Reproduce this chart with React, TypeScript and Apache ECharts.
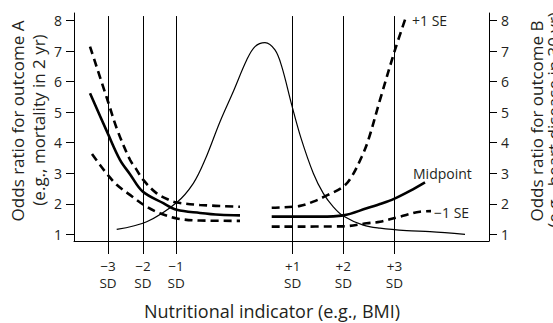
import React, { useEffect, useRef } from "react";
import * as echarts from "echarts";

// x in arbitrary indicator units (0–100 across the plot), y = odds ratio
const sdPositions = [8.2, 16.6, 24.6, 52.7, 64.9, 77.2];
const sdLabels = ["\u22123\nSD", "\u22122\nSD", "\u22121\nSD", "+1\nSD", "+2\nSD", "+3\nSD"];
const yTicks = [1, 2, 3, 4, 5, 6, 7, 8];

const distribution: [number, number][] = [
  [10.29, 1.16], [17.52, 1.41], [24.75, 2.04], [28.75, 2.67], [31.57, 3.44],
  [35.18, 4.69], [38.39, 5.68], [41.61, 6.71], [43.61, 7.15], [46.02, 7.28],
  [48.43, 7.04], [50.05, 6.5], [52.46, 5.24], [54.7, 4.15], [57.66, 3.0],
  [60.07, 2.34], [62.48, 1.9], [64.89, 1.6], [69.71, 1.3], [73.73, 1.2],
  [80.17, 1.12], [85.78, 1.09], [94.22, 1.0],
];

const midLeft: [number, number][] = [
  [3.86, 5.62], [8.19, 4.29], [11.08, 3.44], [13.49, 2.97], [16.55, 2.4],
  [21.52, 2.02], [24.75, 1.8], [30.36, 1.7], [35.18, 1.64], [40.0, 1.62],
];
const upperLeft: [number, number][] = [
  [3.86, 7.15], [8.19, 5.35], [10.43, 4.42], [13.49, 3.44], [14.87, 3.16],
  [16.7, 2.78], [19.93, 2.34], [23.13, 2.11], [24.75, 2.04], [30.36, 1.96],
  [40.0, 1.9],
];
const lowerLeft: [number, number][] = [
  [4.34, 3.63], [6.27, 3.27], [8.19, 2.94], [10.29, 2.62], [13.49, 2.29],
  [17.52, 1.9], [20.72, 1.69], [24.75, 1.52], [30.36, 1.45], [40.0, 1.44],
];

const midRight: [number, number][] = [
  [47.64, 1.58], [54.46, 1.58], [59.28, 1.58], [64.89, 1.62], [70.53, 1.85],
  [73.73, 1.99], [77.11, 2.16], [80.96, 2.42], [84.58, 2.7],
];
const upperRight: [number, number][] = [
  [47.64, 1.87], [54.46, 1.93], [57.66, 2.07], [61.2, 2.29], [64.89, 2.56],
  [66.92, 2.89], [69.33, 3.54], [70.92, 4.09], [73.73, 5.4], [77.35, 7.04],
  [80.17, 8.19],
];
const lowerRight: [number, number][] = [
  [47.64, 1.25], [64.89, 1.26], [70.53, 1.36], [73.73, 1.41], [78.55, 1.58],
  [83.37, 1.74], [86.02, 1.76],
];

const Y_MIN = 0.78;
const Y_MAX = 8.25;
const SD_TOP = 8.15;
const FONT = "'Open Sans', 'Noto Sans', sans-serif";
const INK = "#231f20";

export default function App() {
  const ref = useRef<HTMLDivElement>(null);
  useEffect(() => {
    if (!ref.current) return;
    const chart = echarts.init(ref.current, undefined, { renderer: "svg" });
    const thick = (data: [number, number][], dashed: boolean) => ({
      type: "line",
      data,
      showSymbol: false,
      smooth: 0.35,
      silent: true,
      lineStyle: {
        color: "#000",
        width: 2.6,
        type: dashed ? [8, 5] : "solid",
      },
    });
    const yAxisBase = {
      type: "value",
      min: Y_MIN,
      max: Y_MAX,
      splitLine: { show: false },
      axisLine: { show: true, lineStyle: { color: "#000", width: 1 } },
      axisTick: { show: true, customValues: yTicks, length: 8, lineStyle: { color: "#000" } },
      axisLabel: {
        customValues: yTicks,
        margin: 12,
        fontSize: 14,
        color: INK,
        fontFamily: FONT,
      },
    };
    const txt = (text: string, x: number, y: number, size: number, align: string, rot = 0) => ({
      type: "text",
      x,
      y,
      rotation: rot,
      style: {
        text,
        fontSize: size,
        fontFamily: FONT,
        fill: INK,
        align,
        verticalAlign: "middle",
      },
    });
    chart.setOption({
      animation: false,
      backgroundColor: "#fff",
      grid: { left: 74, right: 64, top: 13, bottom: 82 },
      xAxis: {
        type: "value",
        min: 0,
        max: 100,
        splitLine: { show: false },
        axisLine: { show: true, lineStyle: { color: "#000", width: 1 } },
        axisTick: { show: true, customValues: sdPositions, length: 13, lineStyle: { color: "#000" } },
        axisLabel: {
          customValues: sdPositions,
          formatter: (v: number) => {
            const i = sdPositions.findIndex((p) => Math.abs(p - v) < 1e-6);
            return i >= 0 ? sdLabels[i] : "";
          },
          margin: 16,
          fontSize: 13.5,
          lineHeight: 17,
          color: INK,
          fontFamily: FONT,
        },
      },
      yAxis: [
        { ...yAxisBase, position: "left" },
        { ...yAxisBase, position: "right" },
      ],
      series: [
        {
          type: "line",
          data: distribution,
          showSymbol: false,
          smooth: 0.35,
          silent: true,
          lineStyle: { color: "#000", width: 1.2 },
          markLine: {
            silent: true,
            symbol: ["none", "none"],
            label: { show: false },
            lineStyle: { color: "#000", width: 1, type: "solid" },
            data: sdPositions.map((x) => [
              { coord: [x, Y_MIN] },
              { coord: [x, SD_TOP] },
            ]),
          },
        },
        thick(midLeft, false),
        thick(upperLeft, true),
        thick(lowerLeft, true),
        thick(midRight, false),
        thick(upperRight, true),
        thick(lowerRight, true),
      ],
      graphic: [
        txt("Odds ratio for outcome A", 17, 121, 17, "center", Math.PI / 2),
        txt("(e.g., mortality in 2 yr)", 38, 120, 17, "center", Math.PI / 2),
        txt("Odds ratio for outcome B", 536, 121, 17, "center", Math.PI / 2),
        txt("(e.g., heart disease in 30 yr)", 553, 120, 17, "center", Math.PI / 2),
        txt("Nutritional indicator (e.g., BMI)", 272, 311, 18, "center"),
        txt("+1 SE", 412, 20, 14, "left"),
        txt("Midpoint", 413, 173, 14, "left"),
        txt("\u22121 SE", 434, 212, 14, "left"),
      ],
    });
    return () => chart.dispose();
  }, []);
  return (
    <div
      ref={ref}
      style={{ position: "fixed", left: 0, top: 0, width: 553, height: 323 }}
    />
  );
}
